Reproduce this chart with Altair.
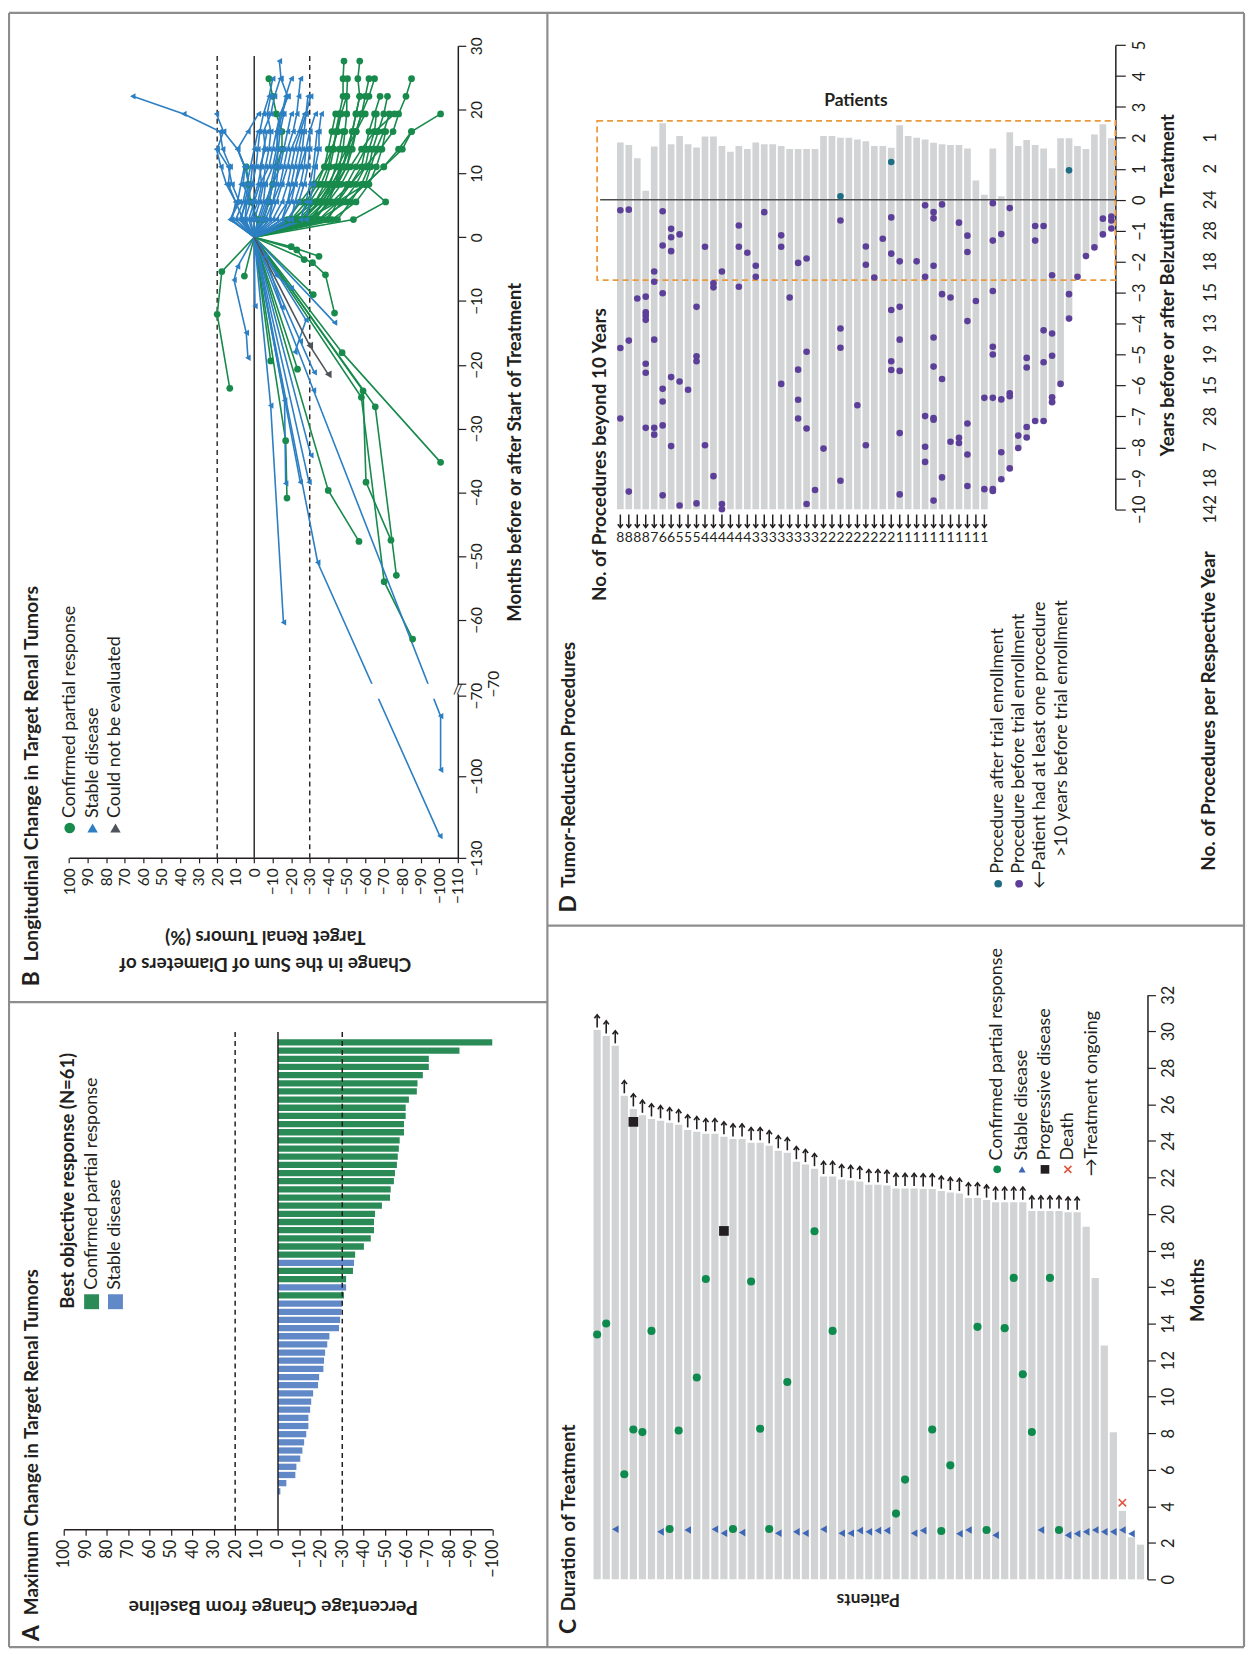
import altair as alt
import pandas as pd

OFF = 8
W, H = 1244, 1645
FONT = "Lato"
INK = "#231f20"
BAR_GREY = "#d1d3d4"
FRAME = "#8d8d8d"
MINUS = "replace(format(datum.value, 'd'), '-', '\u2212')"
UP_HEAD = "M-1,0.3L0,-1L1,0.3"
DOWN_HEAD = "M-1,-0.3L0,1L1,-0.3"


def P(v):
    return v - OFF


# ---------------- Panel A data ----------------
A_VALUES = [-100.0, -84.7, -70.4, -70.4, -67.6, -65.1, -64.8, -61.1, -59.6, -59.6,
            -58.8, -58.8, -56.8, -56.4, -55.9, -55.5, -54.6, -54.1, -52.6, -52.3,
            -48.5, -45.3, -44.8, -44.8, -43.3, -40.1, -36.0, -35.5, -35.0, -31.8,
            -31.8, -30.8, -30.0, -29.6, -29.0, -28.5, -24.0, -23.0, -22.0, -21.5,
            -21.2, -19.2, -18.7, -16.4, -15.5, -15.0, -14.2, -14.2, -13.2, -12.2,
            -11.4, -10.4, -8.6, -8.1, -3.9, -1.1]
A_RESPONSE = (["PR"] * 27 + ["SD"] + ["PR"] * 2 + ["SD"] + ["PR"] + ["SD"] * 24)
A_TICKS = [100, 90, 80, 70, 60, 50, 40, 30, 20, 10, 0, -10, -20, -30, -40, -50,
           -60, -70, -80, -90, -100]
A_DASHED = [20, -30]

# ---------------- Panel B data ----------------
B_SCAN_MONTHS = [2.76, 5.52, 8.28, 11.04, 13.8, 16.56, 19.32, 22.08, 24.84, 27.6]
B_PR_POST = [
    [-20, -33, -40, -45, -50, -55, -58, -62, -65],
    [-53.6, -71, -60, -63, -66, -70, -73],
    [-30, -42, -52, -60, -68, -75, -78, -82, -85],
    [-35, -50, -60, -70, -80, -85, -100.7],
    [-28, -45, -60, -70, -78, -85],
    [-25, -35, -42, -48, -50, -53, -55, -57, -56, -57],
    [-22, -30, -36, -40, -42, -45, -46, -48, -48, -48.5],
    [-30, -38, -45, -50, -52, -55, -60],
    [-40, -45, -50, -55, -60, -62, -65, -68],
    [-18, -25, -32, -38, -42, -45, -47, -50],
    [-32, -40, -47, -52, -58, -65, -75.8],
    [-27, -35, -41, -44, -46, -48],
    [-35, -45, -52, -58, -60],
    [-24, -33, -38, -41, -43, -44, -46],
    [-38, -48, -55, -60, -62, -65, -66],
    [-45, -52, -58, -62, -64, -67, -70, -72],
    [-20, -28, -34, -38, -40, -42, -44],
    [-31, -37, -42, -47, -52],
    [-26, -36, -44, -50, -53, -55, -58, -60, -62],
    [-42, -55, -62, -66, -69, -71],
    [-33, -40, -44, -46, -48, -49, -50, -50, -50.4],
    [-28, -38, -44, -48, -51, -53, -55, -57],
    [-5, -8, -10, -12, -15, -15, -12, -10, -7.9],
    [-2, 2, 3, 4.3],
]
B_SD_POST = [
    [12, 10, 14, 13, 17, 18.5, 38, 65.6],
    [13, 8, 12, 14, 20, 16.6, 20.4],
    [5, 2, 6, 5, 9, 3.4, -2.3],
    [-5, -8, -10, -12, -13, -12, -15, -18, -14.5, -13.6],
    [0, -3, -5, -6, -8, -9, -7, -8.9],
    [-10, -15, -18, -20, -22, -25, -28, -30.5],
    [7, 5, 3, 5, 9],
    [-8, -12, -15, -18, -20, -24, -27],
    [-15, -20, -22, -25, -28, -30, -33],
    [2, -2, -4, -3, -6, -5, -9, -11, -14],
    [-3, -6, -10, -14, -16, -18, -20],
    [10, 6, 4, 2, 0, -2],
    [-12, -18, -20, -22, -24, -26],
    [-20, -22, -25, -27, -28],
    [3, 0, -3, -8, -10, -12, -14, -18.3],
    [-6, -10, -12, -13, -15],
    [8, 4, 1, -1, -2, -3, -5, -8, -10],
    [-18, -24, -27, -29, -30, -30],
    [5, 4, 2, 1],
    [-25, -28, -30, -32, -33, -34],
    [12.8, 9, 7.2, 5.3, 9, 16.6],
    [-2, -5, -6, -10, -12, -13, -15, -17, -20],
    [-15, -18, -22, -24, -26, -27, -28, -29],
    [0, 1, -2, -4, -5, -7],
    [-8, -10, -14, -16, -18, -21, -23, -24, -25],
    [6, 10, 15, 18, 20.4],
    [-4, -7, -9, -11, -13, -14, -16],
    [-28, -30, -32, -33, -35, -35, -36.2],
]
B_PR_PRE = [
    [(17.5, -5.4), (20.0, -12.1), (13.2, -23.7)],
    [(-20.0, -1.5), (-35.0, -3.0)],
    [(-23.0, -2.0), (-27.0, -3.5)],
    [(-31.5, -4.0), (-38.5, -5.9), (-43.4, -11.9)],
    [(-31.9, -9.0)],
    [(-47.5, -18.1), (-100.7, -35.3)],
    [(-58.8, -24.1), (-60.4, -38.4), (-73.9, -47.5)],
    [(-65.4, -26.6), (-76.8, -53.0)],
    [(-57.9, -25.1), (-70.2, -54.0), (-85.6, -63.0)],
    [(-40.0, -39.7), (-56.6, -47.7)],
    [(-17.0, -31.9), (-17.7, -40.9)],
    [(-23.4, -20.7)],
    [(-8.9, -19.4)],
    [(5.3, -6.1)],
]
B_SD_PRE = [
    [(-34.3, -51.0), (-100.3, -122.0)],
    [(-8.9, -26.4), (-15.8, -60.4)],
    [(-32.0, -24.0), (-100.7, -78.0), (-100.7, -97.7)],
    [(9.0, -4.6), (10.9, -6.7), (4.3, -15.0), (3.4, -18.9)],
    [(-0.4, -10.8)],
    [(-24.9, -16.3), (-32.4, -21.2)],
    [(-43.4, -13.4)],
    [(-16.4, -25.6), (-17.0, -38.6)],
    [(-30.6, -34.2)],
    [(-24.9, -38.4)],
    [(-29.6, -38.4)],
    [(-12.0, -6.0), (-20.0, -8.0)],
    [(-28.0, -13.0), (-22.0, -18.0)],
    [(-6.0, -3.0), (-15.0, -11.0)],
]
B_NE_PRE = [[(-30.0, -17.0), (-40.0, -21.5)]]
B_XTICKS = [100, 90, 80, 70, 60, 50, 40, 30, 20, 10, 0, -10, -20, -30, -40, -50,
            -60, -70, -80, -90, -100, -110]
B_YTICKS = [30, 20, 10, 0, -10, -20, -30, -40, -50, -60, -70, -70.5, -100, -130]
B_DASHED = [20, -30]

# ---------------- Panel C data ----------------
C_DURATION = [30.07, 29.74, 29.2, 26.47, 25.75, 25.4, 25.2, 25.1, 24.99, 24.88,
              24.6, 24.5, 24.39, 24.39, 24.22, 24.1, 24.1, 23.9, 23.9, 23.73,
              23.46, 23.35, 22.86, 22.7, 22.48, 22.05, 22.05, 21.88, 21.83, 21.77,
              21.6, 21.6, 21.56, 21.39, 21.39, 21.39, 21.37, 21.37, 21.25, 21.17,
              21.12, 20.88, 20.88, 20.76, 20.64, 20.64, 20.64, 20.64, 20.16, 20.16,
              20.16, 20.16, 20.1, 20.1, 19.3, 16.5, 12.8, 8.05, 3.75, 2.3, 1.9]
C_ONGOING = 54  # first 54 patients still on treatment
C_PR_PATIENTS = [1, 2, 4, 5, 6, 7, 9, 10, 12, 13, 16, 18, 19, 20, 22, 25, 27, 34, 35, 38,
                 39, 40, 43, 44, 46, 47, 48, 49, 51, 52]
C_PR_MONTHS = [13.4, 14.0, 5.75, 8.2, 8.06, 13.6, 2.76, 8.15, 11.05, 16.44,
               2.76, 16.3, 8.24, 2.76, 10.8, 19.05, 13.6, 3.6, 5.46, 8.2,
               2.65, 6.24, 13.82, 2.7, 13.75, 16.5, 11.23, 8.07, 16.5, 2.7]
C_SD_PATIENTS = [3, 8, 11, 14, 15, 17, 21, 23, 24, 26, 28, 29, 30, 31, 32, 33, 36, 37, 41, 42,
                 45, 50, 53, 54, 55, 56, 57, 58, 59, 60]
C_SD_MONTHS = [2.74, 2.6, 2.7, 2.74, 2.52, 2.56, 2.52, 2.6, 2.52, 2.74,
               2.52, 2.52, 2.67, 2.6, 2.67, 2.67, 2.52, 2.67, 2.5, 2.7,
               2.42, 2.7, 2.42, 2.5, 2.6, 2.7, 2.6, 2.6, 2.7, 2.5]
C_PD_PATIENTS = [5, 15]
C_PD_MONTHS = [25.04, 19.07]
C_DEATH_PATIENTS = [59]
C_DEATH_MONTHS = [4.2]
C_TICKS = [0, 2, 4, 6, 8, 10, 12, 14, 16, 18, 20, 22, 24, 26, 28, 30, 32]

# ---------------- Panel D data ----------------
D_TOP = [1.85, 1.77, 1.34, 0.29, 1.72, 2.47, 1.79, 2.06, 1.79, 1.69,
         2.04, 2.04, 1.74, 1.55, 1.74, 1.64, 1.85, 1.79, 1.79, 1.74,
         1.64, 1.64, 1.64, 1.64, 2.06, 2.06, 2.0, 2.0, 1.95, 1.89,
         1.74, 1.74, 1.68, 2.41, 2.06, 2.0, 1.95, 1.84, 1.79, 1.77,
         1.77, 1.66, 0.62, 0.16, 1.66, 0.11, 2.18, 1.74, 1.93, 1.77,
         1.66, 1.02, 1.99, 1.99, 1.74, 1.64, 2.11, 2.44, 1.99]
D_BEYOND = [8, 8, 8, 8, 7, 6, 6, 5, 5, 5, 4, 4, 4, 4, 4, 4, 3, 3, 3, 3, 3, 3, 3, 3,
            2, 2, 2, 2, 2, 2, 2, 2, 2, 1, 1, 1, 1, 1, 1, 1, 1, 1, 1, 1]
D_BOTTOM_REST = [-9.49, -9.11, -8.73, -8.04, -7.72, -7.18, -7.18, -6.59, -6.0, -3.86,
                 -2.52, -1.82, -1.55, -1.13, -0.93]
D_BEFORE = {
    1: [-0.34, -4.79, -7.07], 2: [-0.32, -4.55, -9.43], 3: [-3.19],
    4: [-3.13, -3.64, -3.75, -3.88, -5.30, -5.59, -7.37],
    5: [-2.32, -2.65, -4.52, -7.37, -7.59],
    6: [-0.37, -1.48, -3.02, -6.11, -6.52, -7.29, -9.55],
    7: [-0.94, -1.21, -1.66, -5.73, -7.96], 8: [-1.12, -5.87, -9.88], 9: [-6.14],
    10: [-3.46, -5.06, -5.22, -9.81], 11: [-1.52, -7.93], 12: [-2.70, -2.83, -8.93],
    13: [-2.32, -9.83, -10.0], 15: [-0.83, -1.52, -2.81], 16: [-1.71], 17: [-2.13, -2.49],
    18: [-0.40], 20: [-1.15, -1.52, -5.95], 21: [-3.16], 22: [-2.04, -5.49, -6.46, -7.07],
    23: [-1.90, -4.91, -7.39, -9.83], 24: [-9.38], 25: [-8.04],
    27: [-0.67, -4.16, -4.78, -9.08], 29: [-6.64], 30: [-1.51, -2.10, -7.93], 31: [-2.51],
    32: [-1.26], 33: [-0.57, -1.74, -3.56, -5.22, -5.50],
    34: [-1.99, -3.46, -4.52, -5.53, -7.54, -9.52], 36: [-1.99],
    37: [-0.18, -2.49, -6.99, -7.98, -8.47],
    38: [-0.40, -0.60, -2.13, -4.45, -5.39, -7.05, -7.11, -9.72],
    39: [-0.15, -3.05, -5.79, -8.97], 40: [-3.16, -7.82], 41: [-0.74, -7.69, -7.86],
    42: [-1.16, -1.69, -3.92, -7.23, -8.23, -9.25], 43: [-3.27], 44: [-6.40, -9.35],
    45: [-0.11, -1.32, -2.95, -4.75, -5.00, -6.40, -9.35, -9.41],
    46: [-1.11, -6.45, -8.16, -9.03], 47: [-0.27, -6.25, -6.35, -8.68], 48: [-7.62, -8.02],
    49: [-5.11, -5.42, -7.34, -7.68], 50: [-0.85, -1.32, -7.15],
    51: [-0.85, -4.22, -5.25, -7.15], 52: [-2.44, -4.32, -5.04, -6.38, -6.54], 53: [-5.95],
    54: [-3.05, -3.84], 55: [-2.49], 56: [-1.82], 57: [-1.54], 58: [-0.61, -1.12],
    59: [-0.54, -0.67, -0.93],
}
D_AFTER = {27: [0.11], 33: [1.22], 54: [0.95]}
D_COUNT_YEARS = [2, 1, 0, -1, -2, -3, -4, -5, -6, -7, -8, -9, -10]
D_COUNTS = [1, 2, 24, 28, 18, 15, 13, 19, 15, 28, 7, 18, 142]
D_TICKS = [5, 4, 3, 2, 1, 0, -1, -2, -3, -4, -5, -6, -7, -8, -9, -10]

# ---------------- colours ----------------
A_GREEN, A_BLUE = "#2a8b57", "#6189c8"
B_GREEN, B_BLUE, B_GREY = "#178a4c", "#2c7fc2", "#4e5459"
C_GREEN, C_BLUE, C_RED = "#0f8a4e", "#3d67b5", "#e2553f"
D_PURPLE, D_TEAL, D_ORANGE = "#5c3f99", "#1f6d85", "#e99a3c"


def axis(**kw):
    base = dict(labelFont=FONT, labelColor=INK, titleFont=FONT, titleColor=INK,
                titleFontWeight="bold", tickColor=INK, domainColor=INK, grid=False,
                zindex=0, labelOverlap=False, labelFlush=False)
    base.update(kw)
    return alt.Axis(**base)


ONE = [{"a": 0}]


def label(txt, x, y, size=18, bold=False, angle=270, align="left", color=INK, font=FONT):
    return alt.Chart(alt.Data(values=[{"t": txt}])).mark_text(
        angle=angle, align=align, baseline="middle", fontSize=size,
        fontWeight="bold" if bold else "normal", font=font, color=color
    ).encode(x=alt.value(P(x)), y=alt.value(P(y)), text="t:N")


def symbol(shape, x, y, size, color, filled=True, stroke_width=1):
    return alt.Chart(alt.Data(values=ONE)).mark_point(
        shape=shape, size=size, filled=filled, color=color, opacity=1, strokeWidth=stroke_width
    ).encode(x=alt.value(P(x)), y=alt.value(P(y)))


def hline(x1, x2, y, color=FRAME, width=2.2):
    return alt.Chart(alt.Data(values=ONE)).mark_rule(color=color, strokeWidth=width).encode(
        x=alt.value(x1), x2=alt.value(x2), y=alt.value(y))


def vline(x, y1, y2, color=FRAME, width=2.2):
    return alt.Chart(alt.Data(values=ONE)).mark_rule(color=color, strokeWidth=width).encode(
        x=alt.value(x), y=alt.value(y1), y2=alt.value(y2))


# ================= Panel A =================
a_df = pd.DataFrame({"idx": list(range(1, len(A_VALUES) + 1)), "value": A_VALUES,
                     "resp": A_RESPONSE, "zero": 0})
A_X = alt.Scale(domain=[-100, 100], range=[P(494.6), P(64)], nice=False, zero=False)
A_Y = alt.Scale(range=[P(1039.4), P(1498.6)], paddingInner=0.23, paddingOuter=0.115)
A_AXIS_Y = 1532.6
A_XAXIS = axis(orient="bottom", offset=P(A_AXIS_Y) - H, values=A_TICKS, labelExpr=MINUS,
               labelAngle=270, labelAlign="right", labelBaseline="middle", labelFontSize=16.5,
               labelPadding=4, tickSize=6, tickWidth=1.2, domainWidth=1.5,
               title="Percentage Change from Baseline", titleAngle=180, titleAlign="center",
               titleBaseline="middle", titleX=P(274), titleY=1610 - A_AXIS_Y, titleFontSize=19.5)

a_bars = alt.Chart(a_df).mark_bar().encode(
    x=alt.X("value:Q", scale=A_X, axis=A_XAXIS),
    x2="zero:Q",
    y=alt.Y("idx:O", scale=A_Y, axis=None),
    color=alt.condition("datum.resp == 'PR'", alt.value(A_GREEN), alt.value(A_BLUE)),
)
a_zero = alt.Chart(pd.DataFrame({"v": [0]})).mark_rule(color=INK, strokeWidth=1.5).encode(
    x=alt.X("v:Q", scale=A_X, axis=A_XAXIS), y=alt.value(P(1033)), y2=alt.value(P(A_AXIS_Y)))
a_dash = alt.Chart(pd.DataFrame({"v": A_DASHED})).mark_rule(
    color=INK, strokeWidth=1.5, strokeDash=[5, 4]).encode(
    x=alt.X("v:Q", scale=A_X, axis=A_XAXIS), y=alt.value(P(1033)), y2=alt.value(P(A_AXIS_Y)))
panelA = alt.layer(a_bars, a_dash, a_zero)

# ================= Panel B =================
rows = []


def add_path(pid, grp, pts):
    rows.append({"pid": pid, "grp": grp, "seq": 0, "pct": 0.0, "month": 0.0})
    for i, (v, m) in enumerate(pts, start=1):
        rows.append({"pid": pid, "grp": grp, "seq": i, "pct": float(v), "month": float(m)})


for i, vals in enumerate(B_PR_POST):
    add_path(f"PRa{i}", "PR", list(zip(vals, B_SCAN_MONTHS)))
for i, vals in enumerate(B_SD_POST):
    add_path(f"SDa{i}", "SD", list(zip(vals, B_SCAN_MONTHS)))
for i, pts in enumerate(B_PR_PRE):
    add_path(f"PRb{i}", "PR", pts)
for i, pts in enumerate(B_SD_PRE):
    add_path(f"SDb{i}", "SD", pts)
for i, pts in enumerate(B_NE_PRE):
    add_path(f"NEb{i}", "NE", pts)
b_df = pd.DataFrame(rows)

B_X = alt.Scale(domain=[-110, 100], range=[P(460), P(69.4)], nice=False, zero=False)
B_Y = alt.Scale(domain=[-130, -70.5, -70, 30], range=[P(858), P(695), P(683), P(42)],
                nice=False, zero=False)
B_XAXIS = axis(orient="bottom", offset=P(858) - H, values=B_XTICKS, labelExpr=MINUS,
               labelAngle=270, labelAlign="right", labelBaseline="middle", labelFontSize=15.5,
               labelPadding=5, tickSize=5, tickWidth=1.2, domainWidth=1.5,
               title=["Change in the Sum of Diameters of", "Target Renal Tumors (%)"],
               titleAngle=180, titleAlign="center", titleBaseline="middle",
               titleX=P(266), titleY=964 - 858, titleFontSize=19, titleLineHeight=27)
B_YAXIS = axis(orient="right", offset=P(460) - W, values=B_YTICKS,
               labelExpr="datum.value == -70.5 ? '\u221270' : " + MINUS,
               labelAngle=270, labelAlign="center", labelBaseline="top", labelFontSize=15.5,
               labelPadding={"condition": {"test": "datum.value == -70", "value": 21}, "value": 4},
               tickSize=8, tickWidth=1.2, domainWidth=1.5,
               title="Months before or after Start of Treatment", titleAngle=270,
               titleAlign="center", titleBaseline="middle", titleX=57, titleY=P(450),
               titleFontSize=18.5)


def b_enc(chart, xf="pct", yf="month"):
    return chart.encode(x=alt.X(f"{xf}:Q", scale=B_X, axis=B_XAXIS),
                        y=alt.Y(f"{yf}:Q", scale=B_Y, axis=B_YAXIS))


def b_lines(grp, color):
    return b_enc(alt.Chart(b_df).transform_filter(f"datum.grp == '{grp}'").mark_line(
        color=color, strokeWidth=1.6)).encode(detail="pid:N", order="seq:Q")


def b_points(grp, shape, color, size):
    return b_enc(alt.Chart(b_df).transform_filter(f"datum.grp == '{grp}' && datum.seq > 0").mark_point(
        shape=shape, filled=True, color=color, size=size, opacity=1))


b_ref = pd.DataFrame({"pct": [0], "top": [28.4], "bottom": [-130]})
b_refd = pd.DataFrame({"pct": B_DASHED, "top": [28.4, 28.4], "bottom": [-130, -130]})
b_zero = b_enc(alt.Chart(b_ref).mark_rule(color=INK, strokeWidth=1.4), yf="top").encode(y2="bottom:Q")
b_dash = b_enc(alt.Chart(b_refd).mark_rule(color=INK, strokeWidth=1.4, strokeDash=[5, 4]),
               yf="top").encode(y2="bottom:Q")
b_gap = b_enc(alt.Chart(pd.DataFrame({"x1": [-45], "x2": [-107], "y1": [-70.0], "y2": [-71.6]}))
              .mark_rect(color="white"), xf="x1", yf="y1").encode(x2="x2:Q", y2="y2:Q")
b_axgap = b_enc(alt.Chart(pd.DataFrame({"x1": [-108.5], "x2": [-112.5], "y1": [-70.06], "y2": [-70.44]}))
                .mark_rect(color="white"), xf="x1", yf="y1").encode(x2="x2:Q", y2="y2:Q")
b_slash = b_enc(alt.Chart(pd.DataFrame({"pct": [-110], "month": [-70.25]})).mark_text(
    text="//", fontSize=14, font=FONT, color=INK))

panelB = alt.layer(
    b_dash, b_zero,
    b_lines("PR", B_GREEN), b_lines("SD", B_BLUE), b_lines("NE", B_GREY),
    b_points("PR", "circle", B_GREEN, 46), b_points("SD", "triangle-left", B_BLUE, 40),
    b_points("NE", "triangle-left", B_GREY, 60),
    b_gap, b_axgap, b_slash,
)

# ================= Panel C =================
c_df = pd.DataFrame({"pid": list(range(1, len(C_DURATION) + 1)), "months": C_DURATION})
c_df["ongoing"] = c_df["pid"] <= C_ONGOING
C_X = alt.Scale(range=[P(595.45), P(1150.55)], paddingInner=0.2, paddingOuter=0.1)
C_Y = alt.Scale(domain=[0, 32], range=[P(1583), P(995.5)], nice=False, zero=False)
C_XAXIS = axis(orient="bottom", offset=P(1583) - H, domain=False, ticks=False, labels=False,
               title="Patients", titleAngle=180, titleAlign="center", titleBaseline="middle",
               titleX=P(872), titleY=1602 - 1583, titleFontSize=17.5)
C_YAXIS = axis(orient="right", offset=P(1153) - W, values=C_TICKS, labelExpr=MINUS,
               labelAngle=270, labelAlign="center", labelBaseline="top", labelFontSize=16.5,
               labelPadding=5, tickSize=8, tickWidth=1.2, domainWidth=1.5,
               title="Months", titleAngle=270, titleAlign="center", titleBaseline="middle",
               titleX=50, titleY=P(1292), titleFontSize=18.5)


def c_enc(chart, yf="months"):
    return chart.encode(x=alt.X("pid:O", scale=C_X, axis=C_XAXIS),
                        y=alt.Y(f"{yf}:Q", scale=C_Y, axis=C_YAXIS))


def c_events(pids, months):
    return pd.DataFrame({"pid": pids, "months": months})


c_ongoing = alt.Chart(c_df).transform_filter("datum.ongoing")
c_bars = c_enc(alt.Chart(c_df).mark_bar(color=BAR_GREY))
c_stems = c_enc(c_ongoing.mark_rule(color=INK, strokeWidth=1.6, yOffset=-2.5, y2Offset=-15)).encode(
    y2="months:Q")
c_heads = c_enc(c_ongoing.mark_point(shape=UP_HEAD, filled=False, size=30, strokeWidth=1.6,
                                     color=INK, opacity=1, yOffset=-12.5))
c_pr = c_enc(alt.Chart(c_events(C_PR_PATIENTS, C_PR_MONTHS)).mark_point(
    shape="circle", filled=True, size=66, color=C_GREEN, opacity=1))
c_sd = c_enc(alt.Chart(c_events(C_SD_PATIENTS, C_SD_MONTHS)).mark_point(
    shape="triangle-left", filled=True, size=58, color=C_BLUE, opacity=1))
c_pd = c_enc(alt.Chart(c_events(C_PD_PATIENTS, C_PD_MONTHS)).mark_point(
    shape="square", filled=True, size=95, color=INK, opacity=1))
c_death = c_enc(alt.Chart(c_events(C_DEATH_PATIENTS, C_DEATH_MONTHS)).mark_point(
    shape="M-1,-1L1,1M-1,1L1,-1", filled=False, size=55, strokeWidth=1.6, color=C_RED, opacity=1))
panelC = alt.layer(c_bars, c_stems, c_heads, c_pr, c_sd, c_pd, c_death)

# ================= Panel D =================
n_bars = len(D_TOP)
d_bottom = [-10.0] * len(D_BEYOND) + D_BOTTOM_REST
d_df = pd.DataFrame({"pid": list(range(1, n_bars + 1)), "top": D_TOP, "bottom": d_bottom})
d_before = pd.DataFrame([{"pid": k, "year": y} for k, ys in D_BEFORE.items() for y in ys])
d_after = pd.DataFrame([{"pid": k, "year": y} for k, ys in D_AFTER.items() for y in ys])
d_beyond = pd.DataFrame({"pid": list(range(1, len(D_BEYOND) + 1)), "n": D_BEYOND})
d_counts = pd.DataFrame({"year": D_COUNT_YEARS, "n": D_COUNTS})

D_X = alt.Scale(range=[P(619.05), P(1120.95)], paddingInner=0.21, paddingOuter=0.105)
D_Y = alt.Scale(domain=[-10, 5], range=[P(507.7), P(41.2)], nice=False, zero=False)
D_YAXIS = axis(orient="right", offset=P(1120.7) - W, values=D_TICKS, labelExpr=MINUS,
               labelAngle=270, labelAlign="center", labelBaseline="top", labelFontSize=16.5,
               labelPadding=6, tickSize=10, tickWidth=1.2, domainWidth=1.5,
               title="Years before or after Belzutifan Treatment", titleAngle=270,
               titleAlign="center", titleBaseline="middle", titleX=52, titleY=P(282),
               titleFontSize=18.5)


def d_y(field):
    return alt.Y(f"{field}:Q", scale=D_Y, axis=D_YAXIS)


def d_x():
    return alt.X("pid:O", scale=D_X, axis=None)


d_bars = alt.Chart(d_df).mark_bar(color=BAR_GREY).encode(x=d_x(), y=d_y("top"), y2="bottom:Q")
d_zero = alt.Chart(pd.DataFrame({"year": [0]})).mark_rule(color="#4d4d4f", strokeWidth=1.5).encode(
    x=alt.value(P(603)), x2=alt.value(P(1120.7)), y=d_y("year"))
d_box = alt.Chart(pd.DataFrame({"top": [2.55], "bottom": [-2.6]})).mark_rect(
    fillOpacity=0, stroke=D_ORANGE, strokeWidth=1.8, strokeDash=[6, 4]).encode(
    x=alt.value(P(600)), x2=alt.value(P(1120.7)), y=d_y("top"), y2="bottom:Q")
d_pts_before = alt.Chart(d_before).mark_point(shape="circle", filled=True, size=44,
                                              color=D_PURPLE, opacity=1).encode(x=d_x(), y=d_y("year"))
d_pts_after = alt.Chart(d_after).mark_point(shape="circle", filled=True, size=44,
                                            color=D_TEAL, opacity=1).encode(x=d_x(), y=d_y("year"))
d_stems = alt.Chart(d_beyond).mark_rule(color=INK, strokeWidth=1.5).encode(
    x=d_x(), y=alt.value(P(513)), y2=alt.value(P(526)))
d_heads = alt.Chart(d_beyond).mark_point(shape=DOWN_HEAD, filled=False, size=26, strokeWidth=1.5,
                                         color=INK, opacity=1).encode(x=d_x(), y=alt.value(P(523.5)))
d_digits = alt.Chart(d_beyond).mark_text(fontSize=14, font=FONT, color=INK).encode(
    x=d_x(), y=alt.value(P(537)), text="n:N")
d_count_txt = alt.Chart(d_counts).mark_text(fontSize=16.5, font=FONT, color=INK, angle=270,
                                            align="center", baseline="middle").encode(
    x=alt.value(P(1216.7)), y=d_y("year"), text="n:N")
panelD = alt.layer(d_bars, d_box, d_zero, d_pts_before, d_pts_after, d_stems, d_heads,
                   d_digits, d_count_txt)

# ================= annotations =================
notes = [
    # panel A
    label("A", 32, 1645, 23, True),
    label("Maximum Change in Target Renal Tumors", 32, 1619, 19, True),
    label("Best objective response (N=61)", 68, 1311, 18.5, True),
    symbol("square", 92, 1304, 225, A_GREEN),
    symbol("square", 116, 1304, 225, A_BLUE),
    label("Confirmed partial response", 92, 1292, 18),
    label("Stable disease", 116, 1292, 18),
    # panel B
    label("B", 32, 987, 23, True),
    label("Longitudinal Change in Target Renal Tumors", 32, 962, 19.5, True),
    symbol("circle", 70, 828, 115, B_GREEN),
    symbol("triangle-up", 93, 828, 110, B_BLUE),
    symbol("triangle-up", 116, 828, 110, B_GREY),
    label("Confirmed partial response", 70, 818, 18),
    label("Stable disease", 93, 818, 18),
    label("Could not be evaluated", 116, 818, 18),
    # panel C
    label("C", 571.7, 1638, 23, True),
    label("Duration of Treatment", 571.7, 1615, 19, True),
    symbol("circle", 1002, 1171, 60, C_GREEN),
    symbol("triangle-up", 1027, 1171, 50, C_BLUE),
    symbol("square", 1050, 1171, 75, INK),
    symbol("M-1,-1L1,1M-1,1L1,-1", 1073, 1171, 50, C_RED, filled=False, stroke_width=1.6),
    label("Confirmed partial response", 1002, 1162, 18),
    label("Stable disease", 1027, 1162, 18),
    label("Progressive disease", 1050, 1162, 18),
    label("Death", 1073, 1162, 18),
    label("\u2192Treatment ongoing", 1097, 1178, 18),
    # panel D
    label("D", 571.7, 913, 23, True),
    label("Tumor-Reduction Procedures", 571.7, 888, 19, True),
    label("No. of Procedures beyond 10 Years", 603, 600, 19, True),
    label("No. of Procedures per Respective Year", 1215, 871, 19, True),
    label("Patients", 860, 97, 17.5, True, angle=0, align="center"),
    symbol("circle", 1003, 884, 60, D_TEAL),
    symbol("circle", 1024, 884, 60, D_PURPLE),
    label("Procedure after trial enrollment", 1003, 874, 18),
    label("Procedure before trial enrollment", 1024, 874, 18),
    label("\u2190Patient had at least one procedure", 1045, 889, 18),
    label(">10 years before trial enrollment", 1066.7, 857, 18),
]

frame = [
    hline(1, 1242, 1), hline(1, 1242, 1643),
    vline(1, 1, 1643), vline(1242, 1, 1643),
    vline(542, 1, 1643), hline(1, 542, 995), hline(542, 1242, 918),
]

chart = alt.layer(panelA, panelB, panelC, panelD, *notes, *frame).resolve_scale(
    x="independent", y="independent"
).properties(
    width=W, height=H, padding=0, autosize=alt.AutoSizeParams(type="none")
).configure_view(strokeWidth=0)

chart.save("out.html", embed_options={"renderer": "svg", "actions": False})
